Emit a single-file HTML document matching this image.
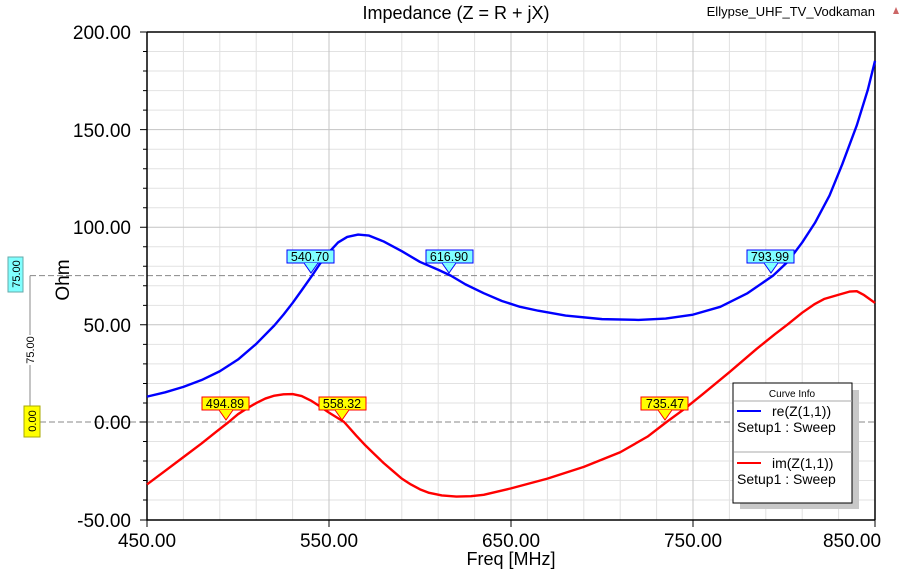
<!DOCTYPE html><html><head><style>body{margin:0;background:#fff;}svg{display:block;font-family:"Liberation Sans",sans-serif;}</style></head><body>
<svg width="913" height="572" viewBox="0 0 913 572" xmlns="http://www.w3.org/2000/svg">
<rect width="913" height="572" fill="#fff"/>
<g stroke="#e2e2e2" stroke-width="1">
<path d="M183.4 32V520M219.8 32V520M256.2 32V520M292.6 32V520M365.4 32V520M401.8 32V520M438.2 32V520M474.6 32V520M547.4 32V520M583.8 32V520M620.2 32V520M656.6 32V520M729.4 32V520M765.8 32V520M802.2 32V520M838.6 32V520"/>
<path d="M147 51.5H875M147 71H875M147 90.6H875M147 110.1H875M147 149.2H875M147 168.7H875M147 188.2H875M147 207.7H875M147 246.8H875M147 266.3H875M147 285.8H875M147 305.4H875M147 344.4H875M147 363.9H875M147 383.5H875M147 403H875M147 441.5H875M147 461H875M147 480.5H875M147 500H875"/>
</g>
<g stroke="#c4c4c4" stroke-width="1">
<path d="M329 32V520M511 32V520M693 32V520"/>
<path d="M147 129.6H875M147 227.2H875M147 324.8H875"/>
</g>
<g stroke="#888" stroke-width="1" stroke-dasharray="6,3"><path d="M30 275.6H875M40 422H875"/></g>
<path d="M147 32H875V520M147 32V520H875" fill="none" stroke="#000" stroke-width="1.5"/>
<g stroke="#000"><path d="M140 32H147M140 129.6H147M140 227.2H147M140 324.8H147M140 422H147M140 520H147M147 520V527M329 520V527M511 520V527M693 520V527M875 520V527"/>
<path d="M143 51.5H147M143 71H147M143 90.6H147M143 110.1H147M143 149.2H147M143 168.7H147M143 188.2H147M143 207.7H147M143 246.8H147M143 266.3H147M143 285.8H147M143 305.4H147M143 344.4H147M143 363.9H147M143 383.5H147M143 403H147M143 441.5H147M143 461H147M143 480.5H147M143 500H147"/></g>
<g font-size="19" text-anchor="end" fill="#000">
<text x="131" y="39">200.00</text><text x="131" y="137">150.00</text><text x="131" y="234">100.00</text><text x="131" y="332">50.00</text><text x="131" y="429">0.00</text><text x="131" y="527">-50.00</text></g>
<g font-size="19" text-anchor="middle"><text x="147" y="547">450.00</text><text x="329" y="547">550.00</text><text x="511" y="547">650.00</text><text x="693" y="547">750.00</text><text x="852" y="547">850.00</text>
<text x="511" y="565" font-size="18">Freq [MHz]</text>
<text x="456" y="19" font-size="18">Impedance (Z = R + jX)</text></g>
<text x="875" y="16" font-size="13" text-anchor="end">Ellypse_UHF_TV_Vodkaman</text>
<path d="M896 7L893 14H899Z" fill="#c66"/>
<text transform="translate(69,280) rotate(-90)" font-size="19" text-anchor="middle">Ohm</text>
<path d="M30 275.6V410" stroke="#888"/>
<rect x="8" y="257" width="15" height="35" fill="#80ffff" stroke="#6aa"/>
<text transform="translate(20,274) rotate(-90)" font-size="11" text-anchor="middle">75.00</text>
<rect x="27" y="335" width="6" height="30" fill="#fff"/>
<text transform="translate(34,350) rotate(-90)" font-size="11" text-anchor="middle">75.00</text>
<rect x="24" y="406" width="16" height="31" fill="#ffff00" stroke="#aa0"/>
<text transform="translate(36,421) rotate(-90)" font-size="11" text-anchor="middle">0.00</text>
<g transform="translate(147,422) scale(1.82,-1.952)" fill="none" stroke-width="2.4" stroke-linejoin="round">
<polyline vector-effect="non-scaling-stroke" stroke="#0000ff" points="0,13 10,15.2 20,18 30,21.5 40,26 50,32 60,40 70,49.5 75,55 80,61 85,67.5 90.7,75 95,81 100,87 105,92 110,94.8 116,96 122,95.5 130,92.5 140,87.5 150,82 160,78 166.9,75 175,70.5 185,66 195,62 205,59 215,57 230,54.5 250,52.7 270,52.3 285,53 300,55 315,59 330,66 343.99,75 352,82 360,92 367,102 375,116 382,132 390,152 396,170 400,185"/>
<polyline vector-effect="non-scaling-stroke" stroke="#ff0000" points="0,-32 10,-25 20,-18 30,-11 38,-5 44.89,0 50,4 55,7 60,9.7 65,12 70,13.5 75,14.2 80,14.3 85,13.3 90,11 95,8 100,4.8 108.32,0 115,-7 120,-12 125,-16.5 130,-21 135,-25 140,-29 145,-32 150,-34.5 155,-36.3 162,-37.6 170,-38.2 178,-38 185,-37.3 200,-34 220,-29 240,-23 260,-15.5 275,-7.5 285.47,0 295,6.5 305,14 320,25.5 335,37.5 345,45 352,50 360,56 367,60.5 372,63 380,65.2 386,66.8 390,67 394,65 397,63 400,61"/>
</g>
<g font-size="12.5" text-anchor="middle">
<rect x="287" y="250" width="47" height="13" fill="#80ffff" stroke="#00f"/><path d="M304 263L311 273L318 263" fill="#80ffff" stroke="#00f"/><text x="310" y="261">540.70</text>
<rect x="426" y="250" width="47" height="13" fill="#80ffff" stroke="#00f"/><path d="M442 263L449 273L456 263" fill="#80ffff" stroke="#00f"/><text x="449" y="261">616.90</text>
<rect x="747" y="250" width="47" height="13" fill="#80ffff" stroke="#00f"/><path d="M764 263L771 273L778 263" fill="#80ffff" stroke="#00f"/><text x="770" y="261">793.99</text>
<rect x="202" y="397" width="47" height="13" fill="#ffff00" stroke="#f00"/><path d="M219 410L226 420L233 410" fill="#ffff00" stroke="#f00"/><text x="225" y="408">494.89</text>
<rect x="319" y="397" width="47" height="13" fill="#ffff00" stroke="#f00"/><path d="M335 410L342 420L349 410" fill="#ffff00" stroke="#f00"/><text x="342" y="408">558.32</text>
<rect x="641" y="397" width="47" height="13" fill="#ffff00" stroke="#f00"/><path d="M658 410L665 420L672 410" fill="#ffff00" stroke="#f00"/><text x="665" y="408">735.47</text>
</g>
<rect x="740" y="390" width="119" height="119" fill="#c8c8c8"/>
<rect x="733" y="383" width="119" height="120" fill="#fff" stroke="#000"/>
<text x="792" y="397" font-size="10" text-anchor="middle">Curve Info</text>
<path d="M734 401H852M734 452H852" stroke="#aaa"/>
<path d="M737 411H761" stroke="#00f" stroke-width="2"/>
<path d="M737 463H761" stroke="#f00" stroke-width="2"/>
<g font-size="14"><text x="772" y="416">re(Z(1,1))</text><text x="737" y="432">Setup1 : Sweep</text>
<text x="772" y="468">im(Z(1,1))</text><text x="737" y="484">Setup1 : Sweep</text></g>
</svg>
</body></html>
